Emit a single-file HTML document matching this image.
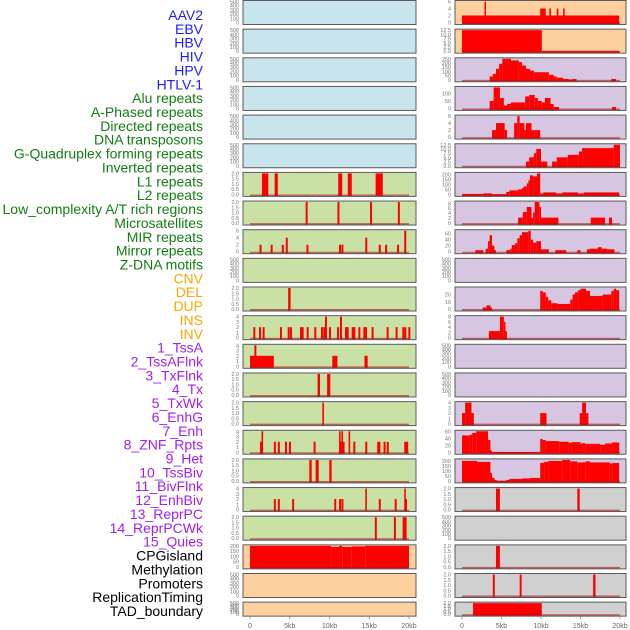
<!DOCTYPE html>
<html><head><meta charset="utf-8"><style>
html,body{margin:0;padding:0;background:#fff;width:630px;height:630px;overflow:hidden}
svg{display:block;font-family:"Liberation Sans",sans-serif}
</style></head><body>
<svg id="c" width="630" height="630"></svg>
<script>
// ---- data: segments [startKb, endKb, value] ----
const L6=[[1.5,2.3,2],[3.1,3.5,2],[11.1,11.6,2],[12.3,12.8,2],[15.8,16.7,2]];
const L7=[[7,7.25,2],[11,11.25,2],[15.1,15.35,2],[18.6,18.85,2]];
const L8=[[1.2,1.45,2],[2.6,2.85,2],[4,4.25,2],[4.5,4.75,4],[7.1,7.35,2],[11.2,11.45,2],[11.5,11.75,2],[14.5,14.75,4],[16.2,16.45,2],[17,17.25,2],[18.5,18.75,2],[19.4,19.65,6]];
const L10=[[4.8,5.1,2]];
const L11s=[0.42,1.13,1.59,3.77,4.74,5.03,6.29,6.5,7.13,8.09,8.93,9.22,9.94,10.94,11.95,12.16,12.79,13,13.63,14.26,14.47,15.3,17.19,18.32,19.16,19.41,19.92];
const L11t=[9.43,11.32];
const L12=[[0,3,2],[0.55,0.8,4],[10.35,11,2],[14.4,14.8,2]];
const L13=[[8.5,8.8,2],[9.7,10.1,2]];
const L14=[[9.1,9.3,2]];
const L15=[[1.25,1.5,2],[1.45,1.65,4],[3,3.25,2],[3.5,3.75,2],[4.4,4.65,2],[4.9,5.15,2],[8,8.25,2],[11.3,11.9,2],[11.2,11.4,4],[11.5,11.7,4],[12.4,12.6,4],[13,13.25,2],[14.5,14.75,2],[16,16.4,2],[16.8,17.05,2],[17.2,17.45,2],[19.4,19.9,2]];
const L16=[[7.46,7.76,2],[8.26,8.64,2],[9.98,10.27,2]];
const L17=[[3,3.25,2],[3.5,3.75,2],[5.3,5.55,2],[10.6,10.85,2],[11.2,11.45,2],[11.5,11.75,2],[14.5,14.7,4],[16.2,16.45,2],[18.2,18.45,2],[19.4,19.6,4],[19.5,19.75,2]];
const L18=[[15.7,15.95,2],[18.1,18.35,2],[19.2,19.7,2]];
const L19=[[0,10.2,200],[10.2,11.2,190],[11.2,11.6,200],[11.6,12.8,190],[12.8,14.5,195],[14.5,20,200]];
const R0=[[0,19.9,2],[2.85,3.0,6],[9.9,10.6,4],[11.05,11.25,4],[12.0,12.2,4],[12.8,13.0,4]];
const R1=[[0,10.1,12.5],[10.1,19.9,0.2]];
const R2=[[3.5,3.9,40],[3.9,4.3,70],[4.3,4.7,130],[4.7,5.1,190],[5.1,6.2,250],[6.2,7.2,230],[7.2,7.6,210],[7.6,8.1,170],[8.1,8.6,130],[8.6,9.1,110],[9.1,11,90],[11,11.6,60],[11.6,12,40],[12,12.8,25],[12.8,13.5,10],[13.5,14,5],[14,14.5,10],[18.9,19.5,10]];
const R3=[[3.5,4,50],[4,4.8,140],[4.8,5.3,70],[5.3,5.7,20],[5.7,6.2,30],[6.2,8,40],[8,8.5,80],[8.5,9.2,90],[9.2,9.6,70],[9.6,10.1,50],[10.1,10.5,40],[10.5,11.2,70],[11.2,11.6,30],[11.6,12.3,10],[19,19.5,10]];
const R4=[[3.8,4.3,2],[4.3,5.4,4],[5.4,5.7,2],[6.6,7,4],[7,7.3,6],[7.3,7.9,4],[7.9,8.1,2],[8.1,8.8,4],[8.8,9.2,2],[9.2,9.9,2]];
const R5=[[8.1,8.5,2.5],[8.5,9.1,5],[9.1,9.4,7.5],[9.4,10,10],[10,10.8,2.5],[11.4,12,2.5],[12,13.4,5],[13.4,14.8,6.5],[14.8,15.2,8.5],[15.2,19.2,10.5],[19.2,20,12.5]];
const R6=[[0,2.7,5],[2.7,3.8,10],[3.8,5.6,3],[5.6,6,25],[6,7.1,40],[7.1,7.6,50],[7.6,7.8,65],[7.8,8.2,80],[8.2,8.4,110],[8.4,8.6,140],[8.6,9,190],[9,9.5,180],[9.5,9.9,210],[9.9,10.3,10],[10.3,11.9,20],[11.9,12.7,10],[12.7,14.7,20],[14.7,15.4,10],[15.4,19.9,20]];
const R7=[[7.1,7.7,2.2],[7.7,8.2,4.5],[8.2,8.8,6.5],[8.8,9,2],[9,9.2,4.3],[9.2,9.8,8.5],[9.8,10,6.5],[10,12.2,2.2],[16.3,18.1,2.2],[18.6,19,2.2]];
const R8=[[1.7,2.7,5],[3,3.3,10],[3.3,3.5,35],[3.5,3.8,55],[3.8,4.1,20],[4.1,4.3,5],[5.6,6.1,5],[6.1,6.3,10],[6.3,6.7,22],[6.7,7,28],[7,7.3,45],[7.3,7.6,55],[7.6,8.4,65],[8.4,8.7,70],[8.7,9,40],[9,9.4,30],[9.4,10,35],[10,11,8],[11.8,13.2,5],[14.6,15,5],[15.8,16.2,8],[16.2,17.2,10],[17.2,17.7,15],[17.7,18.4,10],[18.4,19.3,8]];
const R10=[[2.6,3.1,2],[3.1,3.6,5],[3.6,3.8,2],[9.9,10.2,25],[10.2,10.6,23],[10.6,10.9,17],[10.9,11.3,12],[11.3,12.1,8],[12.1,13.7,7],[13.7,14,13],[14,14.3,20],[14.3,14.7,23],[14.7,15,26],[15,15.7,28],[15.7,16.2,25],[16.2,17.8,18],[17.8,18.9,20],[18.9,19.2,25],[19.2,19.5,28],[19.5,19.9,26]];
const R11=[[3.4,4.8,2.5],[4.8,5.3,8],[5.3,5.5,6],[5.5,5.6,2.5]];
const R14=[[0,0.4,2],[0.4,1.2,4],[1.2,1.5,2],[9.9,10.7,2],[14.9,15.2,2],[15.2,15.7,4],[15.7,16,2]];
const R15=[[0,1,48],[1,1.3,50],[1.3,1.8,55],[1.8,3.3,60],[3.3,3.6,35],[3.6,3.8,5],[3.8,9.9,1],[9.9,10.2,38],[10.2,10.6,35],[10.6,12.3,32],[12.3,13.5,30],[13.5,13.9,27],[13.9,15,29],[15,15.2,24],[15.2,15.6,26],[15.6,17.5,24],[17.5,18.1,21],[18.1,19,25],[19,19.9,28]];
const R16=[[0,1.9,200],[1.9,3.6,190],[3.6,3.8,80],[3.8,4.1,30],[4.1,4.4,10],[4.4,5.6,2],[5.6,6,10],[6,7.6,20],[7.6,8.6,25],[8.6,9.9,30],[9.9,10.4,180],[10.4,10.9,190],[10.9,12.7,200],[12.7,13.7,210],[13.7,14.6,195],[14.6,15.6,185],[15.6,16.2,195],[16.2,18.7,185],[18.7,19.1,175],[19.1,19.9,180]];
const R17=[[4.3,4.8,2],[14.6,14.9,2]];
const R19=[[4.3,4.8,2]];
const R20=[[3.9,4.15,2],[7.3,7.55,2],[16.6,16.9,2]];
const R21=[[1.4,10.1,2]];
// y-axis tick sets
const T500=[0,100,200,300,400,500];
const T2=[0,0.5,1,1.5,2];
const T4=[0,1,2,3,4];
const T6=[0,2,4,6];
const T8=[0,2,4,6,8];
const T125=[0,2.5,5,7.5,10,12.5];
const T200=[0,50,100,150,200];
const T250=[0,50,100,150,200,250];
const T60=[0,20,40,60];
const T20=[0,10,20];
const T100=[0,50,100];
const xTicks=[0,5,10,15,20];
const xTickLabels=["0","5kb","10kb","15kb","20kb"];
const labels=["AAV2","EBV","HBV","HIV","HPV","HTLV-1","Alu repeats","A-Phased repeats","Directed repeats","DNA transposons","G-Quadruplex forming repeats","Inverted repeats","L1 repeats","L2 repeats","Low_complexity A/T rich regions","Microsatellites","MIR repeats","Mirror repeats","Z-DNA motifs","CNV","DEL","DUP","INS","INV","1_TssA","2_TssAFlnk","3_TxFlnk","4_Tx","5_TxWk","6_EnhG","7_Enh","8_ZNF_Rpts","9_Het","10_TssBiv","11_BivFlnk","12_EnhBiv","13_ReprPC","14_ReprPCWk","15_Quies","CPGisland","Methylation","Promoters","ReplicationTiming","TAD_boundary"];
const labelGroups=[6,13,5,15,5];

const spikes=(xs,v)=>xs.map(k=>[k,k+0.25,v]);
const L11=spikes(L11s,2).concat(spikes(L11t,4));
const BLUE="#c8e4ec",ORANGE="#ffd09f",PURPLE="#d6c6e2",GREEN="#c9e1a5",GRAY="#d0d0d0";
// [data, ticks, ymax, bg]
const left=[
 [null,T500,500,BLUE],[null,T500,500,BLUE],[null,T500,500,BLUE],[null,T500,500,BLUE],[null,T500,500,BLUE],[null,T500,500,BLUE],
 [L6,T2,2,GREEN],[L7,T2,2,GREEN],[L8,T6,6,GREEN],[null,T500,500,GREEN],[L10,T2,2,GREEN],[L11,T4,4,GREEN],
 [L12,T4,4,GREEN],[L13,T2,2,GREEN],[L14,T2,2,GREEN],[L15,T4,4,GREEN],[L16,T2,2,GREEN],[L17,T4,4,GREEN],[L18,T2,2,GREEN],
 [L19,T200,200,ORANGE],[null,T500,500,ORANGE],[null,T500,500,ORANGE]];
const right=[
 [R0,T6,6,ORANGE],[R1,T125,12.5,ORANGE],[R2,T250,250,PURPLE],[R3,T100,140,PURPLE],[R4,T6,6,PURPLE],[R5,T125,12.5,PURPLE],
 [R6,T200,210,PURPLE],[R7,T8,8.5,PURPLE],[R8,T60,70,PURPLE],[null,T500,500,PURPLE],[R10,T20,29,PURPLE],[R11,T8,8,PURPLE],
 [null,T500,500,PURPLE],[null,T500,500,PURPLE],[R14,T4,4,PURPLE],[R15,T60,60,PURPLE],[R16,T200,210,PURPLE],
 [R17,T2,2,GRAY],[null,T500,500,GRAY],[R19,T2,2,GRAY],[R20,T2,2,GRAY],[R21,T2,2,GRAY]];

const NS="http://www.w3.org/2000/svg";
const svg=document.getElementById('c');
function mk(tag,attrs,parent){const e=document.createElementNS(NS,tag);for(const k in attrs)e.setAttribute(k,attrs[k]);(parent||svg).appendChild(e);return e;}
const fmt=(t,ticks)=>ticks.some(v=>v%1!==0)?t.toFixed(1):String(t);

function drawPanel(col,i,spec){
  const [data,ticks,ymax,bg]=spec;
  const fx=col===0?243:455, fw=col===0?173:171;
  const x0=col===0?250:462, sx=col===0?7.95:7.9;
  const top=0.5+i*28.65, h=i===21?14:24;
  const xs=k=>x0+k*sx;
  const ys=v=>top+1+(1-v/ymax)*(h-3);
  const g=mk('g',{});
  
  
  mk('rect',{x:fx,y:top,width:fw,height:h,fill:bg,stroke:'#5a5a5a','stroke-width':1},g);
  ticks.forEach(t=>{
    const tx=mk('text',{x:fx-4,y:ys(t)+2,'font-size':5.5,fill:'#777','text-anchor':'end'},g);
    tx.textContent=fmt(t,ticks);
    
    
  });
  if(data){
    data.forEach(s=>{
      const r=mk('rect',{x:xs(s[0]),y:ys(s[2]),width:Math.max(1.5,xs(s[1])-xs(s[0])),height:top+h-0.5-ys(s[2]),fill:'#ff0000'},g);
      
      
    });
    const bl=mk('line',{x1:xs(0),x2:xs(20),y1:top+h-1.2,y2:top+h-1.2,stroke:'rgba(170,20,20,0.6)','stroke-width':1.5},g);
    
    
  }
  if(i===21){
    xTicks.forEach((k,j)=>{
      mk('line',{x1:xs(k),x2:xs(k),y1:top+h,y2:top+h+3,stroke:'#888','stroke-width':0.8},g);
      const tl=mk('text',{x:xs(k),y:628,'font-size':7,fill:'#666','text-anchor':'middle'},g);
      tl.textContent=xTickLabels[j];
      
      
    });
  }
}
left.forEach((s,i)=>drawPanel(0,i,s));
right.forEach((s,i)=>drawPanel(1,i,s));

const colors=["#1c1cff","#137d13","#ffa500","#a020f0","#000000"];
let idx=0;
labelGroups.forEach((n,gi)=>{for(let j=0;j<n;j++){
  const t=mk('text',{x:203,y:15+idx*13.86+5,'font-size':14,fill:colors[gi],'text-anchor':'end'});
  t.textContent=labels[idx];
  
  
  idx++;
}});
</script>
</body></html>
